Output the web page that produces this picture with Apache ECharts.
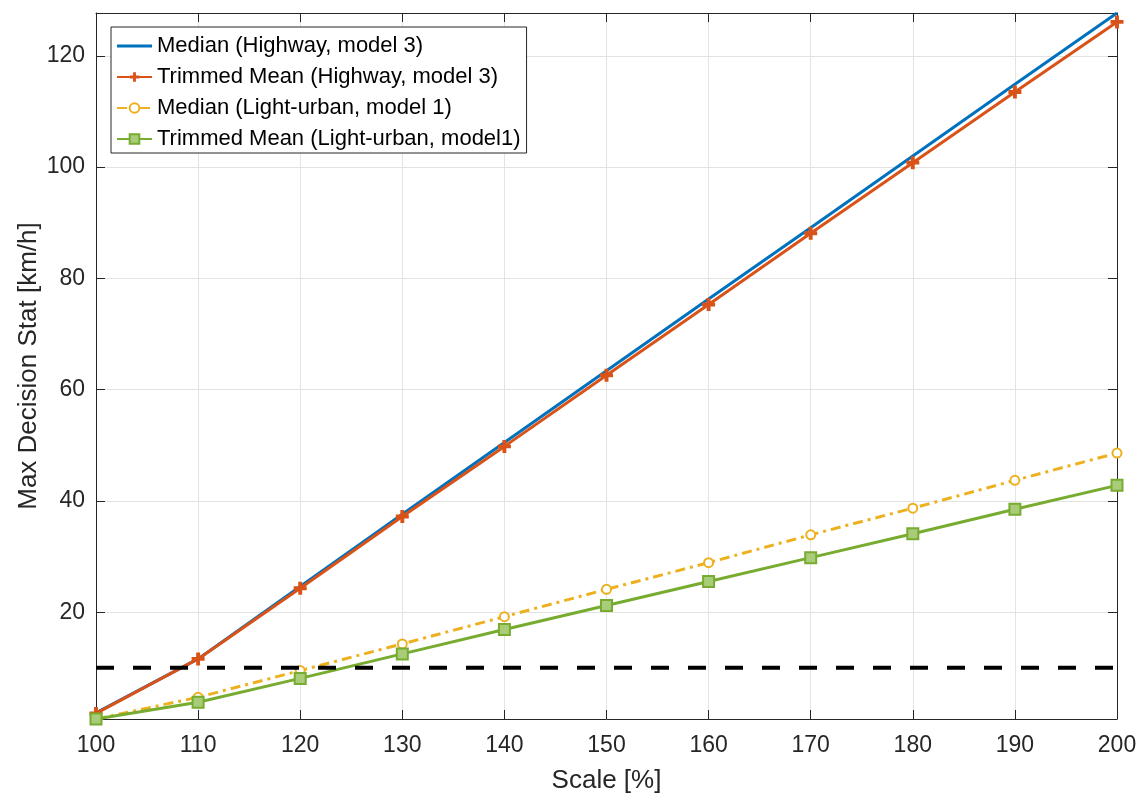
<!DOCTYPE html>
<html style="height: 100%">
<head>
    <meta charset="utf-8">
</head>
<body style="height: 100%; margin: 0; background: #fff">
    <div id="container" style="width: 1141px; height: 793px"></div>
    <script type="text/javascript" src="https://cdn.jsdelivr.net/npm/echarts@6/dist/echarts.min.js"></script>
    <script type="text/javascript">
        // scale values [%]
        var scales = [100, 110, 120, 130, 140, 150, 160, 170, 180, 190, 200];
        var medianHighway = [1.9, 11.6, 24.6, 37.6, 50.5, 63.4, 76.3, 89.1, 102.0, 114.9, 127.7];
        var trimmedHighway = [1.8, 11.6, 24.3, 37.2, 49.8, 62.6, 75.3, 88.1, 100.8, 113.5, 126.1];
        var medianUrban = [0.8, 4.7, 9.5, 14.3, 19.2, 24.1, 28.9, 33.9, 38.7, 43.7, 48.6];
        var trimmedUrban = [0.8, 3.8, 8.1, 12.5, 16.9, 21.2, 25.5, 29.8, 34.1, 38.5, 42.8];
        var threshold = 10;
        var yMin = 0.8, yMax = 127.7;

        function pairs(ys) {
            return scales.map(function (x, i) { return [x, ys[i]]; });
        }

        var font = "'Liberation Sans', Arial, Helvetica, sans-serif";
        var axisCol = '#262626';
        var plus = 'path://M3.5,0h3v3.5h3.5v3h-3.5v3.5h-3v-3.5h-3.5v-3h3.5z';

        var dom = document.getElementById("container");
        var myChart = echarts.init(dom);

        var xBase = {
            type: 'value', min: 100, max: 200, interval: 10,
            axisLine: { show: true, lineStyle: { color: axisCol, width: 1 } },
            axisTick: { show: true, inside: true, length: 9, lineStyle: { color: axisCol } },
            splitLine: { show: false }
        };
        var yBase = {
            type: 'value', min: yMin, max: yMax, minInterval: 20, maxInterval: 20, splitNumber: 6,
            axisLine: { show: true, lineStyle: { color: axisCol, width: 1 } },
            axisTick: { show: true, inside: true, length: 9, lineStyle: { color: axisCol } },
            splitLine: { show: false }
        };

        var option = {
            animation: false,
            textStyle: { fontFamily: font },
            grid: { left: 96, right: 24, top: 13, bottom: 74, outerBoundsMode: 'none', containLabel: false },
            legend: {
                orient: 'vertical',
                left: 111, top: 27,
                data: [
                    { name: 'Median (Highway, model 3)', icon: 'path://M0,0h35v3h-35z' },
                    'Trimmed Mean (Highway, model 3)',
                    'Median (Light-urban, model 1)',
                    'Trimmed Mean (Light-urban, model1)'
                ],
                itemWidth: 35, itemHeight: 12, itemGap: 7,
                padding: [7, 6, 2, 5],
                backgroundColor: '#fff',
                borderColor: axisCol, borderWidth: 1,
                textStyle: { fontSize: 22, color: '#000', fontFamily: font, lineHeight: 24 }
            },
            xAxis: [
                Object.assign({}, xBase, {
                    position: 'bottom',
                    name: 'Scale [%]', nameLocation: 'middle', nameGap: 49,
                    nameTextStyle: { fontSize: 26, color: axisCol, fontFamily: font },
                    axisLabel: { fontSize: 23, color: axisCol, margin: 15, fontFamily: font },
                    splitLine: { show: true, lineStyle: { color: '#e3e3e3', width: 1 } }
                }),
                Object.assign({}, xBase, { position: 'top', axisLabel: { show: false } })
            ],
            yAxis: [
                Object.assign({}, yBase, {
                    position: 'left',
                    name: 'Max Decision Stat [km/h]', nameLocation: 'middle', nameGap: 54,
                    nameMoveOverlap: false,
                    nameTextStyle: { fontSize: 26, color: axisCol, fontFamily: font },
                    axisLabel: {
                        fontSize: 23, color: axisCol, margin: 11, fontFamily: font,
                        formatter: function (v) { return (Math.abs(v % 20) < 1e-6) ? String(v) : ''; }
                    },
                    splitLine: { show: true, lineStyle: { color: '#e3e3e3', width: 1 } }
                }),
                Object.assign({}, yBase, { position: 'right', axisLabel: { show: false } })
            ],
            series: [
                {
                    name: 'Median (Highway, model 3)', type: 'line',
                    data: pairs(medianHighway),
                    showSymbol: false, symbol: 'none',
                    lineStyle: { color: '#0072BD', width: 3 },
                    itemStyle: { color: '#0072BD' }
                },
                {
                    name: 'Trimmed Mean (Highway, model 3)', type: 'line',
                    data: pairs(trimmedHighway),
                    symbol: plus, symbolSize: 13,
                    lineStyle: { color: '#D95319', width: 3 },
                    itemStyle: { color: '#D95319' }
                },
                {
                    name: 'Median (Light-urban, model 1)', type: 'line',
                    data: pairs(medianUrban),
                    symbol: 'emptyCircle', symbolSize: 9,
                    lineStyle: { color: '#EDB120', width: 3, type: [10, 5, 3, 5] },
                    itemStyle: { color: '#EDB120', borderWidth: 2 }
                },
                {
                    name: 'Trimmed Mean (Light-urban, model1)', type: 'line',
                    data: pairs(trimmedUrban),
                    symbol: 'rect', symbolSize: 11,
                    lineStyle: { color: '#77AC30', width: 3 },
                    itemStyle: { color: '#a8cc78', borderColor: '#77AC30', borderWidth: 2 }
                },
                {
                    name: 'threshold', type: 'line',
                    data: [[100, threshold], [200, threshold]],
                    symbol: 'none',
                    lineStyle: { color: '#000', width: 4, type: [18, 19] },
                    z: 5
                }
            ]
        };

        myChart.setOption(option);
    </script>
</body>
</html>
